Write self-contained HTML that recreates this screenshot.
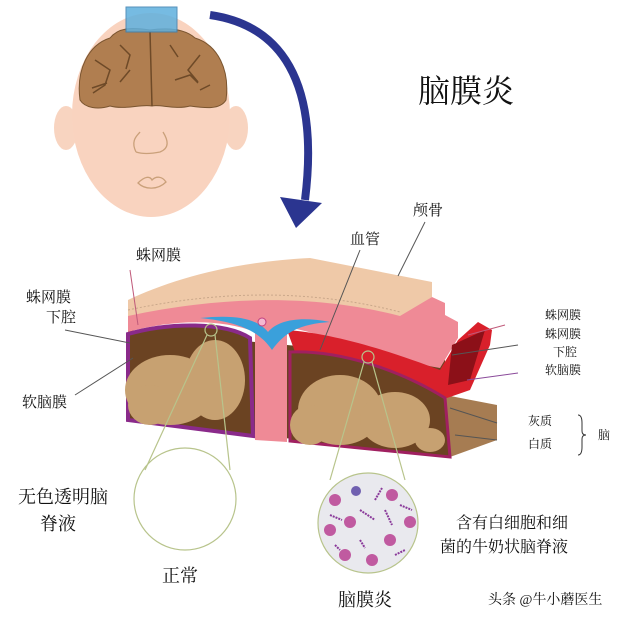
<!DOCTYPE html>
<html><head><meta charset="utf-8"><style>
body{margin:0;background:#fff}
svg{display:block}
text{font-family:"Liberation Serif","Noto Serif CJK SC","Noto Sans CJK SC",serif;fill:#111}
</style></head><body>
<svg width="640" height="620" viewBox="0 0 640 620" xmlns="http://www.w3.org/2000/svg">
<!-- head -->
<ellipse cx="66" cy="128" rx="12" ry="22" fill="#f8d4c0"/>
<ellipse cx="236" cy="128" rx="12" ry="22" fill="#f8d4c0"/>
<ellipse cx="151" cy="115" rx="79" ry="102" fill="#f9d3bf"/>
<path d="M80,100 C76,70 88,45 110,38 C118,28 130,27 150,30 C172,27 186,30 195,38 C218,45 230,70 226,100 C220,110 205,108 190,106 C175,110 160,104 152,106 C140,104 125,110 110,106 C98,110 85,108 80,100 Z" fill="#b07e50" stroke="#7a5530" stroke-width="1"/>
<path d="M150,32 L152,106 M95,60 l15,10 l-5,15 l-12,8 M200,55 l-12,15 l10,12 M120,45 l10,10 l-4,14 M175,80 l15,-5 l8,8 M92,88 l15,-5 M130,70 l-10,12 M170,45 l8,12 M210,85 l-10,5" stroke="#6e4a28" stroke-width="1.5" fill="none"/>
<rect x="126" y="7" width="51" height="25" fill="#5fb0de" stroke="#3a7fb0" opacity="0.85"/>
<path d="M136,152 C130,140 138,135 140,132 M163,132 C168,140 170,148 160,152 C150,154 142,154 136,152" stroke="#caa07a" fill="none" stroke-width="1.3"/>
<path d="M138,183 C145,176 150,176 152,180 C156,176 162,176 166,182 C158,190 145,190 138,183 Z" stroke="#caa07a" fill="none" stroke-width="1.3"/>
<!-- arrow -->
<path d="M210,15 C280,25 320,80 305,200" stroke="#2b3590" stroke-width="8" fill="none"/>
<path d="M280,197 L296,228 L322,203 Z" fill="#2b3590"/>
<text x="418" y="102" font-size="32">脑膜炎</text>
<!-- block -->
<path d="M445,395 L497,405 L497,440 L450,457 Z" fill="#a67c52"/>
<path d="M128,330 L128,420 L450,457 L445,395 L445,360 Z" fill="#6b4322"/>
<!-- skull -->
<path d="M128,300 C170,280 230,262 310,258 L432,282 L432,297 L400,318 C330,300 240,292 128,318 Z" fill="#efc9a8"/>
<path d="M128,310 C240,286 330,294 400,312" stroke="#c9a78a" stroke-dasharray="2 2" fill="none"/>
<!-- dura -->
<path d="M128,316 C240,292 330,298 400,316 L432,297 L445,303 L445,315 L458,322 L458,338 L440,368 C380,358 330,335 287,327 L287,442 L255,440 L255,332 C220,318 170,320 128,332 Z" fill="#ef8a96"/>
<!-- right red zone -->
<path d="M287,330 C340,334 400,355 440,370 L458,340 L478,322 L492,330 L490,345 L470,390 L447,398 C420,385 360,355 295,352 Z" fill="#d9202b"/>
<path d="M452,345 L485,330 L470,380 L448,385 Z" fill="#8c1018"/>
<!-- left hemisphere -->
<path d="M128,334 C170,322 225,322 250,338 L253,436 L128,420 Z" fill="#6b4322" stroke="#8a2a8a" stroke-width="4"/>
<ellipse cx="170" cy="390" rx="45" ry="35" fill="#c7a171"/>
<ellipse cx="215" cy="380" rx="30" ry="40" fill="#c7a171"/>
<ellipse cx="150" cy="405" rx="22" ry="20" fill="#c7a171"/>
<!-- right hemisphere -->
<path d="M290,352 C340,350 400,370 445,398 L450,457 L290,441 Z" fill="#6b4322" stroke="#a02060" stroke-width="3"/>
<ellipse cx="340" cy="410" rx="42" ry="35" fill="#c7a171"/>
<ellipse cx="395" cy="420" rx="35" ry="28" fill="#c7a171"/>
<ellipse cx="310" cy="425" rx="20" ry="20" fill="#c7a171"/>
<ellipse cx="430" cy="440" rx="15" ry="12" fill="#c7a171"/>
<!-- blue CSF -->
<path d="M200,318 C240,314 258,320 268,332 C278,320 300,316 330,322 C300,324 285,332 272,350 C260,332 240,322 200,318 Z" fill="#3aa0db"/>
<circle cx="262" cy="322" r="4" fill="#f5b8d0" stroke="#c04080"/>
<!-- zoom lines & circles -->
<g stroke="#b8c48c" fill="none" stroke-width="1.2">
<circle cx="211" cy="330" r="6"/>
<line x1="207" y1="335" x2="145" y2="470"/><line x1="215" y1="335" x2="230" y2="470"/>
<circle cx="185" cy="499" r="51"/>
<circle cx="368" cy="357" r="6"/>
<line x1="364" y1="362" x2="330" y2="480"/><line x1="372" y1="362" x2="405" y2="480"/>
<circle cx="368" cy="523" r="50" fill="#e9e9ee"/>
</g>
<g fill="#c05aa0">
<circle cx="335" cy="500" r="6"/><circle cx="392" cy="495" r="6"/><circle cx="350" cy="522" r="6"/><circle cx="390" cy="540" r="6"/><circle cx="330" cy="530" r="6"/><circle cx="410" cy="522" r="6"/><circle cx="345" cy="555" r="6"/><circle cx="372" cy="560" r="6"/>
<circle cx="356" cy="491" r="5" fill="#7060b0"/>
</g>
<g stroke="#8a3a9a" stroke-width="2" stroke-dasharray="2 1">
<line x1="375" y1="500" x2="382" y2="488"/><line x1="360" y1="510" x2="375" y2="520"/><line x1="385" y1="510" x2="392" y2="525"/><line x1="330" y1="515" x2="342" y2="520"/><line x1="400" y1="505" x2="412" y2="510"/><line x1="360" y1="540" x2="365" y2="548"/><line x1="395" y1="555" x2="405" y2="550"/><line x1="335" y1="545" x2="340" y2="550"/>
</g>
<!-- label lines -->
<g stroke="#555" stroke-width="1">
<line x1="425" y1="222" x2="398" y2="276"/>
<line x1="360" y1="250" x2="320" y2="350"/>
<line x1="130" y1="270" x2="138" y2="325" stroke="#c05a7a"/>
<line x1="65" y1="330" x2="130" y2="343"/>
<line x1="75" y1="395" x2="133" y2="358"/>
<line x1="505" y1="325" x2="468" y2="335" stroke="#c05a7a"/>
<line x1="518" y1="345" x2="452" y2="355"/>
<line x1="518" y1="373" x2="467" y2="380" stroke="#8a4a9a"/>
<line x1="497" y1="423" x2="450" y2="408"/>
<line x1="497" y1="440" x2="455" y2="435"/>
</g>
<path d="M578,415 q4,0 4,8 v8 q0,4 4,4 q-4,0 -4,4 v8 q0,8 -4,8" stroke="#333" fill="none"/>
<g font-size="15">
<text x="413" y="215">颅骨</text>
<text x="350" y="244">血管</text>
<text x="136" y="260">蛛网膜</text>
<text x="26" y="302">蛛网膜</text>
<text x="46" y="322">下腔</text>
<text x="22" y="407">软脑膜</text>
</g>
<g font-size="12">
<text x="545" y="319">蛛网膜</text>
<text x="545" y="338">蛛网膜</text>
<text x="553" y="356">下腔</text>
<text x="545" y="374">软脑膜</text>
<text x="528" y="425">灰质</text>
<text x="528" y="448">白质</text>
<text x="598" y="439">脑</text>
</g>
<g font-size="18">
<text x="18" y="503">无色透明脑</text>
<text x="40" y="530">脊液</text>
<text x="162" y="582">正常</text>
<text x="338" y="606">脑膜炎</text>
</g>
<g font-size="16">
<text x="456" y="528">含有白细胞和细</text>
<text x="440" y="552">菌的牛奶状脑脊液</text>
</g>
<text x="488" y="604" font-size="14" font-family="Liberation Sans,Noto Sans CJK SC,sans-serif" fill="#333">头条 @牛小蘑医生</text>
</svg>
</body></html>
